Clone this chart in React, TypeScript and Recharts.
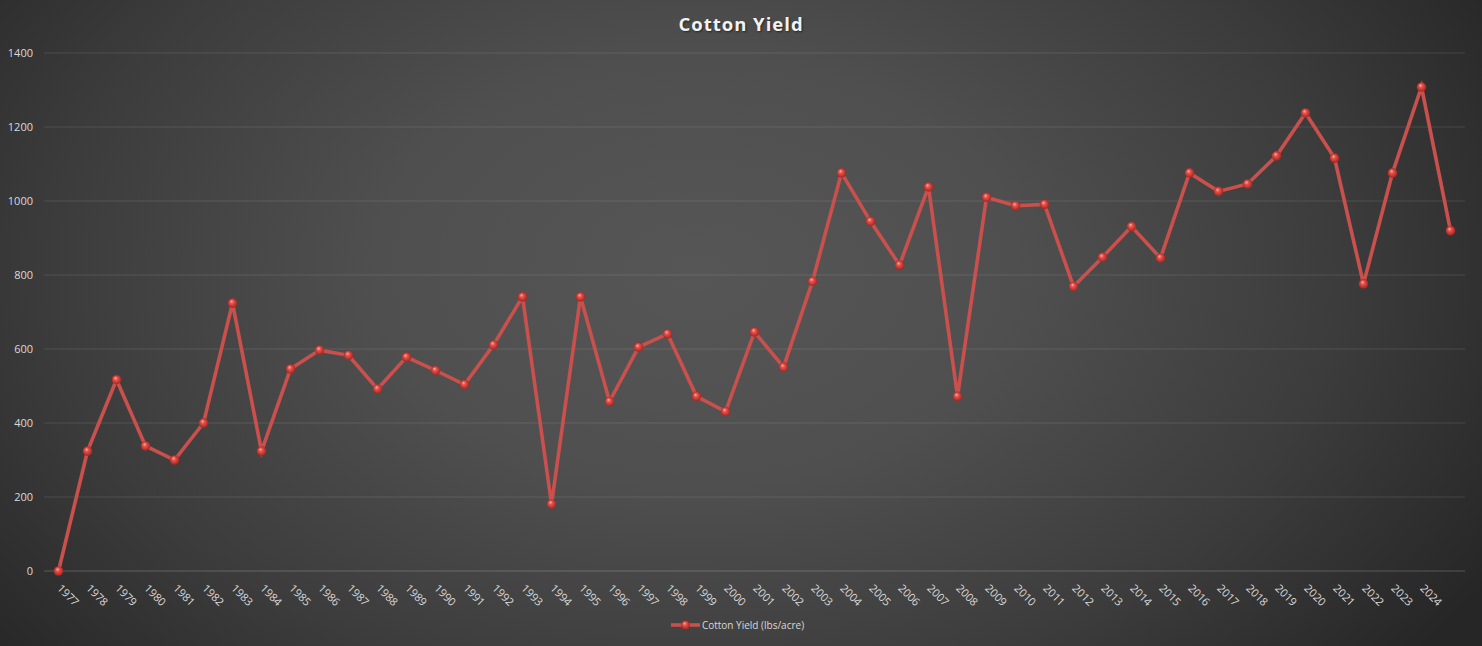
import React from "react";
import { LineChart, Line, XAxis, YAxis, CartesianGrid } from "recharts";

const years = [
  "1977", "1978", "1979", "1980", "1981", "1982", "1983", "1984", "1985", "1986",
  "1987", "1988", "1989", "1990", "1991", "1992", "1993", "1994", "1995", "1996",
  "1997", "1998", "1999", "2000", "2001", "2002", "2003", "2004", "2005", "2006",
  "2007", "2008", "2009", "2010", "2011", "2012", "2013", "2014", "2015", "2016",
  "2017", "2018", "2019", "2020", "2021", "2022", "2023", "2024", "2025",
];

const yieldValues = [
  0, 324, 517, 338, 300, 400, 724, 324, 546, 597,
  583, 492, 578, 542, 504, 611, 741, 181, 741, 458,
  605, 641, 472, 431, 646, 551, 783, 1076, 945, 827,
  1038, 472, 1010, 987, 991, 769, 848, 931, 846, 1076,
  1026, 1046, 1122, 1238, 1116, 776, 1076, 1308, 920,
];

// Last category is drawn without a label in the reference
const hiddenLabels = ["2025"];

const yTicks = [0, 200, 400, 600, 800, 1000, 1200, 1400];

const seriesName = "Cotton Yield (lbs/acre)";
const title = "Cotton Yield";

const data = years.map((year, i) => ({ year, value: yieldValues[i] }));

const FONT = "'Open Sans', 'Noto Sans', sans-serif";
const LABEL_COLOR = "#d9d9d9";
const LINE_COLOR = "#c9504c";

const XTick = (props: any) => {
  const { x, y, payload } = props;
  const label = hiddenLabels.includes(payload.value) ? "" : payload.value;
  return (
    <text
      transform={`translate(${x - 2},${y + 10}) rotate(45)`}
      textAnchor="start"
      fontSize={11}
      fontFamily={FONT}
      fill={LABEL_COLOR}
    >
      {label}
    </text>
  );
};

const BallDot = (props: any) => {
  const { cx, cy, index } = props;
  if (cx == null || cy == null) return null;
  return (
    <g key={`dot-${index}`}>
      <circle cx={cx} cy={cy} r={4.8} fill="url(#ballGrad)" />
    </g>
  );
};

export default function App() {
  return (
    <div
      style={{
        position: "absolute",
        left: 0,
        top: 0,
        width: 1482,
        height: 646,
        overflow: "hidden",
        background:
          "radial-gradient(ellipse 62% 95% at 47% 42%, #565656 0%, #4f4f4f 35%, #3c3c3c 70%, #262626 100%)",
        fontFamily: FONT,
      }}
    >
      <svg width={0} height={0} style={{ position: "absolute" }}>
        <defs>
          <radialGradient id="ballGrad" cx="50%" cy="50%" r="55%" fx="38%" fy="30%">
            <stop offset="0%" stopColor="#ffb0aa" />
            <stop offset="35%" stopColor="#e4524c" />
            <stop offset="100%" stopColor="#9e1f1a" />
          </radialGradient>
        </defs>
      </svg>
      <div
        style={{
          position: "absolute",
          top: 11,
          left: 0,
          width: 1482,
          textAlign: "center",
          color: "#f2f2f2",
          fontSize: 18.5,
          fontWeight: 700,
          letterSpacing: 1,
          lineHeight: "26px",
          textShadow: "1px 1px 2px rgba(0,0,0,0.5)",
        }}
      >
        {title}
      </div>
      <div style={{ position: "absolute", left: 0, top: 0 }}>
        <LineChart
          width={1482}
          height={646}
          data={data}
          margin={{ top: 53, right: 17, bottom: 30, left: 0 }}
        >
          <CartesianGrid vertical={false} stroke="rgba(255,255,255,0.11)" strokeWidth={1} />
          <XAxis
            dataKey="year"
            interval={0}
            height={45}
            padding={{ left: 14.5, right: 14.5 }}
            axisLine={{ stroke: "rgba(255,255,255,0.11)" }}
            tickLine={false}
            tick={<XTick />}
          />
          <YAxis
            width={44}
            domain={[0, 1400]}
            ticks={yTicks}
            axisLine={false}
            tickLine={false}
            tickMargin={5}
            tick={{ fill: LABEL_COLOR, fontSize: 11, fontFamily: FONT }}
          />
          <Line
            type="linear"
            dataKey="value"
            name={seriesName}
            stroke={LINE_COLOR}
            strokeWidth={3.6}
            dot={<BallDot />}
            activeDot={false}
            isAnimationActive={false}
          />
        </LineChart>
      </div>
      <div
        style={{
          position: "absolute",
          top: 618,
          left: -4,
          width: 1482,
          display: "flex",
          justifyContent: "center",
          alignItems: "center",
          color: LABEL_COLOR,
          fontSize: 10,
        }}
      >
        <svg width={31} height={14} style={{ marginRight: 1 }}>
          <line x1={1} y1={7} x2={30} y2={7} stroke={LINE_COLOR} strokeWidth={3.6} />
          <circle cx={15.5} cy={7} r={4.5} fill="url(#ballGrad)" />
        </svg>
        <span>{seriesName}</span>
      </div>
    </div>
  );
}
